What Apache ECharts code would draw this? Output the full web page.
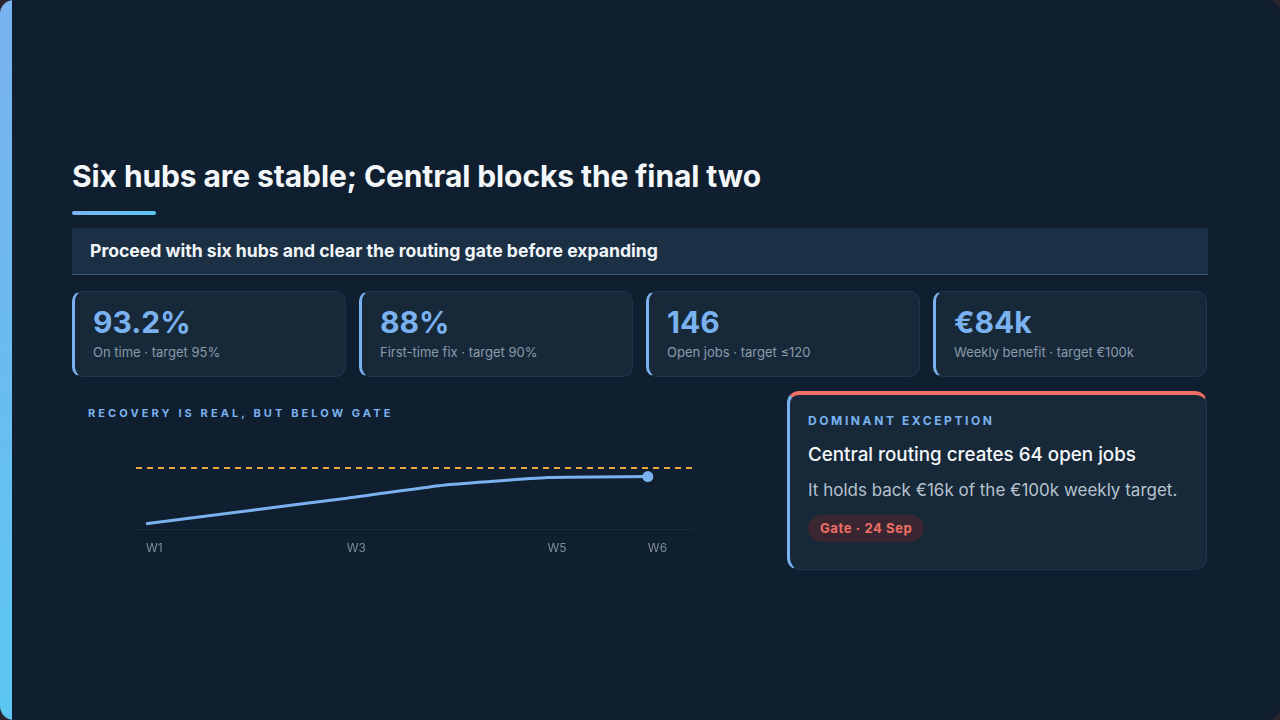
<!DOCTYPE html>
<html>
<head>
<meta charset="utf-8">
<script src="https://cdn.jsdelivr.net/npm/echarts@6/dist/echarts.min.js"></script>
<style>
  html, body { margin: 0; padding: 0; background: #2a2230; }
  body { width: 1280px; height: 720px; overflow: hidden; font-family: Inter, "Noto Sans", sans-serif; }
  .page { position: absolute; left: 0; top: 0; width: 1280px; height: 720px; background: #0f1f2f; border-radius: 14px; overflow: hidden; }
  .stripe { position: absolute; left: 0; top: 0; width: 12px; height: 720px; background: linear-gradient(180deg, #7ab2f0, #5ac6f0); }
  .title { position: absolute; left: 72px; top: 156px; font-size: 30px; font-weight: 700; color: #f4f7fa; letter-spacing: -0.1px; line-height: 40px; white-space: nowrap; }
  .accent { position: absolute; left: 72px; top: 211px; width: 84px; height: 4px; border-radius: 2px; background: linear-gradient(90deg, #7ab2f0, #5ac6f0); }
  .banner { position: absolute; left: 72px; top: 228px; width: 1136px; height: 46px; background: #1b3045; border-bottom: 1px solid #3c5974; }
  .banner span { position: absolute; left: 18px; top: 12px; font-size: 17.6px; font-weight: 700; color: #f2f5f8; line-height: 22px; white-space: nowrap; }
  .kpi { position: absolute; top: 291px; width: 270px; height: 84px; background: #172939; border: 1px solid #20344a; border-left: 3px solid #7ab2f0; border-radius: 10px; box-sizing: content-box; }
  .kpi .v { position: absolute; left: 18px; top: 12px; font-size: 30px; font-weight: 700; color: #7ab2f0; line-height: 36px; white-space: nowrap; }
  .kpi .l { position: absolute; left: 18px; top: 51px; font-size: 13px; color: #8b9aab; line-height: 18px; white-space: nowrap; }
  .section { position: absolute; left: 88px; top: 405px; font-size: 11px; font-weight: 700; letter-spacing: 3.1px; color: #7ab2f0; line-height: 16px; white-space: nowrap; }
  #chart { position: absolute; left: 72px; top: 430px; width: 640px; height: 140px; }
  .exc { position: absolute; left: 787px; top: 391px; width: 416px; height: 174px; background: #172939; border: 1px solid #20344a; border-top: 4px solid #ef6e66; border-left: 3px solid #7ab2f0; border-radius: 12px; }
  .exc .k { position: absolute; left: 18px; top: 18px; font-size: 12px; font-weight: 700; letter-spacing: 2.6px; color: #7ab2f0; line-height: 16px; white-space: nowrap; }
  .exc .h { position: absolute; left: 18px; top: 47px; font-size: 18.8px; font-weight: 500; color: #f4f7fa; line-height: 26px; white-space: nowrap; }
  .exc .p { position: absolute; left: 18px; top: 83px; font-size: 17px; color: #b6c2ce; line-height: 24px; white-space: nowrap; }
  .exc .pill { position: absolute; left: 18px; top: 120px; height: 27px; padding: 0 12px; border-radius: 14px; background: #3a2631; color: #ef6e66; font-size: 13px; font-weight: 700; letter-spacing: 0.6px; line-height: 27px; white-space: nowrap; }
</style>
</head>
<body>
<div class="page">
  <div class="stripe"></div>
  <div class="title">Six hubs are stable; Central blocks the final two</div>
  <div class="accent"></div>
  <div class="banner"><span>Proceed with six hubs and clear the routing gate before expanding</span></div>
  <div id="kpis"></div>
  <div class="section">RECOVERY IS REAL, BUT BELOW GATE</div>
  <div id="chart"></div>
  <div class="exc">
    <div class="k">DOMINANT EXCEPTION</div>
    <div class="h">Central routing creates 64 open jobs</div>
    <div class="p">It holds back €16k of the €100k weekly target.</div>
    <div class="pill">Gate · 24 Sep</div>
  </div>
</div>
<script>
// KPI cards
const kpiValues = ['93.2%', '88%', '146', '€84k'];
const kpiLabels = ['On time · target 95%', 'First-time fix · target 90%', 'Open jobs · target ≤120', 'Weekly benefit · target €100k'];

// on-time trend, weeks 1..6
const weeks = ['W1', 'W2', 'W3', 'W4', 'W5', 'W6'];
const onTime = [84.0, 86.5, 89.0, 91.6, 93.0, 93.2];
const gate = 95;
const weekTicks = [1, 3, 5, 6];

var kpiBox = document.getElementById('kpis');
for (let i = 0; i < kpiValues.length; ++i) {
    let d = document.createElement('div');
    d.className = 'kpi';
    d.style.left = (72 + i * 287) + 'px';
    d.innerHTML = `<div class="v">${kpiValues[i]}</div><div class="l">${kpiLabels[i]}</div>`;
    kpiBox.appendChild(d);
}

var lineData = onTime.map(function(v, i) {
    if (i == onTime.length - 1) {
        return { value: [i + 1, v], symbol: 'circle', symbolSize: 11 };
    }
    return [i + 1, v];
});

var myChart = echarts.init(document.getElementById('chart'));
var option = {
    animation: false,
    grid: { left: 64, right: 18, top: 27, bottom: 41 },
    xAxis: {
        type: 'value',
        min: 0.9,
        max: 6.46,
        splitLine: { show: false },
        axisLine: { show: true, onZero: false, lineStyle: { color: '#1b2b3b', width: 1 } },
        axisTick: { show: false },
        axisLabel: {
            customValues: weekTicks,
            formatter: function(v) { return weeks[Math.round(v) - 1]; },
            align: 'left',
            color: '#7e8c9a',
            fontSize: 12,
            fontFamily: 'Inter',
            margin: 13,
            showMinLabel: true,
            showMaxLabel: true
        }
    },
    yAxis: {
        type: 'value',
        min: 83,
        max: 97,
        show: false
    },
    series: [{
        type: 'line',
        data: lineData,
        symbol: 'none',
        smooth: 0.12,
        lineStyle: { color: '#7ab2f0', width: 3 },
        itemStyle: { color: '#7ab2f0' },
        markLine: {
            silent: true,
            symbol: 'none',
            label: { show: false },
            lineStyle: { color: '#e9a83a', width: 2, type: [6, 5] },
            data: [{ yAxis: gate }]
        }
    }]
};
myChart.setOption(option);
</script>
</body>
</html>
